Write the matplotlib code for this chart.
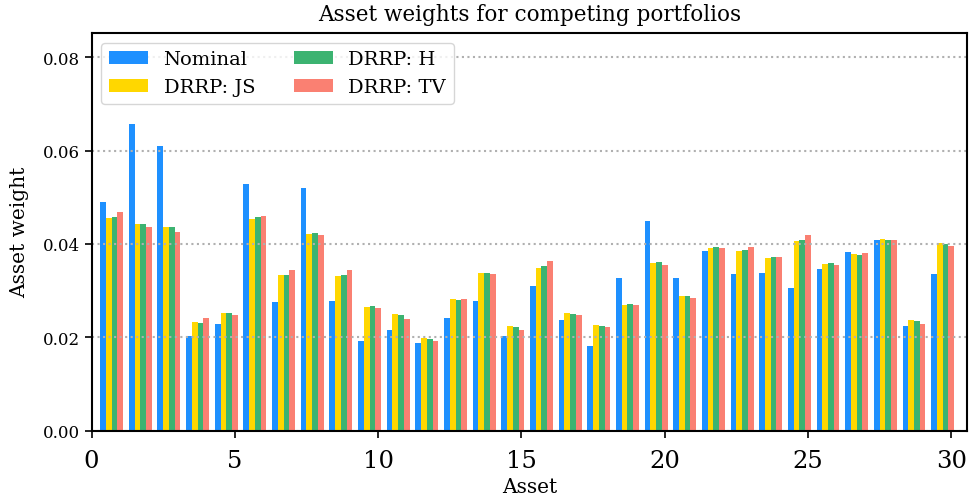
import numpy as np
import matplotlib
matplotlib.use("Agg")
import matplotlib.pyplot as plt

plt.rcParams['font.family'] = 'DejaVu Serif'

# asset weights (assets 1..30)
nominal = [0.0490, 0.0657, 0.0610, 0.0203, 0.0228, 0.0528, 0.0275, 0.0520, 0.0278, 0.0192,
           0.0216, 0.0188, 0.0241, 0.0278, 0.0203, 0.0310, 0.0237, 0.0181, 0.0327, 0.0449,
           0.0327, 0.0385, 0.0336, 0.0338, 0.0306, 0.0346, 0.0383, 0.0408, 0.0224, 0.0336]
drrp_js = [0.0456, 0.0443, 0.0436, 0.0233, 0.0252, 0.0453, 0.0333, 0.0421, 0.0331, 0.0265,
           0.0249, 0.0198, 0.0282, 0.0338, 0.0224, 0.0348, 0.0252, 0.0226, 0.0269, 0.0359,
           0.0288, 0.0391, 0.0385, 0.0370, 0.0406, 0.0357, 0.0378, 0.0411, 0.0237, 0.0402]
drrp_h = [0.0458, 0.0443, 0.0436, 0.0231, 0.0252, 0.0457, 0.0333, 0.0423, 0.0333, 0.0267,
          0.0248, 0.0196, 0.0280, 0.0338, 0.0222, 0.0353, 0.0250, 0.0224, 0.0271, 0.0361,
          0.0288, 0.0393, 0.0387, 0.0372, 0.0408, 0.0359, 0.0376, 0.0408, 0.0235, 0.0400]
drrp_tv = [0.0469, 0.0436, 0.0426, 0.0241, 0.0248, 0.0460, 0.0344, 0.0419, 0.0344, 0.0263,
           0.0239, 0.0192, 0.0282, 0.0336, 0.0216, 0.0363, 0.0248, 0.0222, 0.0269, 0.0355,
           0.0284, 0.0391, 0.0393, 0.0372, 0.0419, 0.0355, 0.0380, 0.0408, 0.0228, 0.0395]

labels = ['Nominal', 'DRRP: JS', 'DRRP: H', 'DRRP: TV']
colors = ['dodgerblue', 'gold', 'mediumseagreen', 'salmon']

assets = np.arange(1, len(nominal) + 1)
width = 0.2

fig = plt.figure(figsize=(9.71, 5.02), dpi=100)
ax = fig.add_axes([0.0943, 0.1402, 0.9016, 0.7921])

for k, (vals, lab, col) in enumerate(zip([nominal, drrp_js, drrp_h, drrp_tv], labels, colors)):
    ax.bar(assets - 0.6 + k * width, vals, width=width, color=col, label=lab)

ax.set_xlim(0, 30.55)
ax.set_ylim(0, 0.0852)
ax.set_xticks(np.arange(0, 31, 5))
ax.set_yticks(np.arange(0, 0.081, 0.02))
ax.yaxis.set_major_formatter(matplotlib.ticker.FormatStrFormatter('%.2f'))
ax.tick_params(axis='x', labelsize=17.5, length=5, width=1.2, pad=8)
ax.tick_params(axis='y', labelsize=12, length=5, width=1.2)
# dotted grid drawn over the bars, as in the reference
ax.grid(axis='y', linestyle=':', color='#b0b0b0', linewidth=1.5, zorder=2)
for s in ax.spines.values():
    s.set_linewidth(1.5)
    s.set_zorder(4)

ax.set_xlabel('Asset', fontsize=14.5, labelpad=4)
ax.set_ylabel('Asset weight', fontsize=14.5, labelpad=10)
ax.set_title('Asset weights for competing portfolios', fontsize=15.5, pad=9.5)
leg = ax.legend(loc='upper left', ncol=2, fontsize=14, fancybox=True, framealpha=0.8,
                edgecolor='#cccccc')
leg.set_zorder(5)

fig.savefig('out.png', dpi=100)
